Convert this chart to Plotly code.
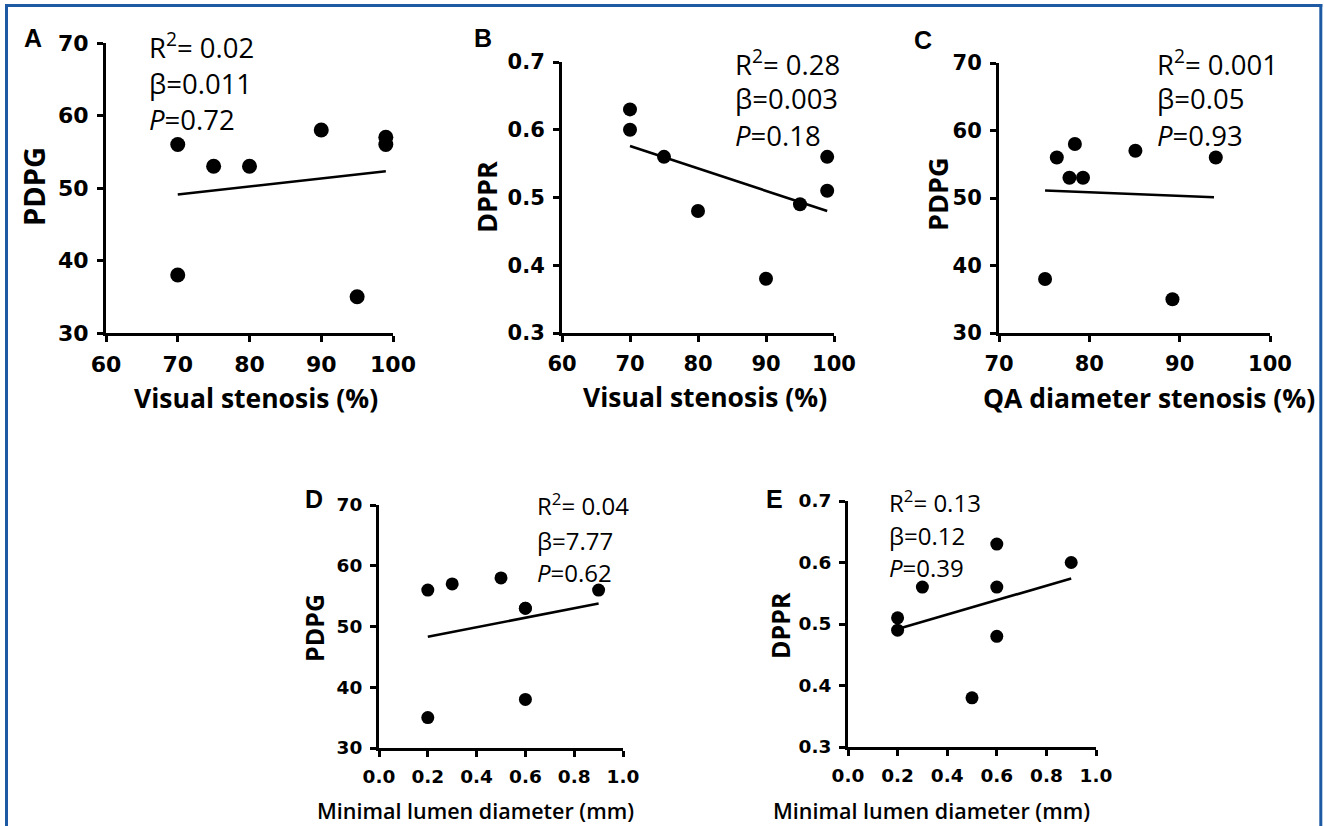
import plotly.graph_objects as go

W, H = 1324, 826

# ---------------- data ----------------
a_x = [70, 70, 75, 80, 90, 95, 99, 99]
a_y = [56, 38, 53, 53, 58, 35, 57, 56]
a_fit_x = [70, 99]
a_fit_y = [49.1, 52.3]

b_x = [70, 70, 75, 80, 90, 95, 99, 99]
b_y = [0.63, 0.60, 0.56, 0.48, 0.38, 0.49, 0.56, 0.51]
b_fit_x = [70, 99]
b_fit_y = [0.576, 0.480]

c_x = [75.1, 76.4, 77.8, 78.4, 79.3, 85.1, 89.2, 94.0]
c_y = [38, 56, 53, 58, 53, 57, 35, 56]
c_fit_x = [75.1, 93.8]
c_fit_y = [51.1, 50.1]

d_x = [0.2, 0.2, 0.3, 0.5, 0.6, 0.6, 0.6, 0.9]
d_y = [56, 35, 57, 58, 53, 53, 38, 56]
d_fit_x = [0.2, 0.9]
d_fit_y = [48.3, 53.8]

e_x = [0.2, 0.2, 0.3, 0.6, 0.6, 0.6, 0.5, 0.9]
e_y = [0.51, 0.49, 0.56, 0.63, 0.56, 0.48, 0.38, 0.60]
e_fit_x = [0.2, 0.9]
e_fit_y = [0.492, 0.574]

panel_letters = ["A", "B", "C", "D", "E"]
x_titles = ["Visual stenosis (%)", "Visual stenosis (%)", "QA diameter stenosis (%)",
            "Minimal lumen diameter (mm)", "Minimal lumen diameter (mm)"]
y_titles = ["PDPG", "DPPR", "PDPG", "PDPG", "DPPR"]
stats = [
    ["R<sup>2</sup>= 0.02", "β=0.011", "<i>P</i>=0.72"],
    ["R<sup>2</sup>= 0.28", "β=0.003", "<i>P</i>=0.18"],
    ["R<sup>2</sup>= 0.001", "β=0.05", "<i>P</i>=0.93"],
    ["R<sup>2</sup>= 0.04", "β=7.77", "<i>P</i>=0.62"],
    ["R<sup>2</sup>= 0.13", "β=0.12", "<i>P</i>=0.39"],
]
x_ranges = [[60, 100], [60, 100], [70, 100], [0, 1.0], [0, 1.0]]
y_ranges = [[30, 70], [0.3, 0.7], [30, 70], [30, 70], [0.3, 0.7]]
x_dticks = [10, 10, 10, 0.2, 0.2]
y_dticks = [10, 0.1, 10, 10, 0.1]
x_fmt = ["d", "d", "d", ".1f", ".1f"]
y_fmt = ["d", ".1f", "d", "d", ".1f"]

# ---------------- layout geometry (pixels) ----------------
# plot boxes: left, right, top, bottom
boxes = [(106, 393, 43, 333), (562, 834, 62, 333), (999, 1270, 63, 333),
         (379, 623, 505, 748), (848, 1096, 501, 747)]
letter_pos = [(33, 38), (483, 38), (923, 40), (314, 499), (774, 499)]
ytitle_pos = [(33, 187), (487, 197), (937, 195), (314, 628), (780, 626)]
ytitle_size = [29, 27, 27, 25, 25]
xtitle_pos = [(256, 398), (705, 397), (1149, 398), (475, 810), (931, 810)]
xtitle_size = [26.5, 26.5, 26.5, 21.5, 21.5]
xtitle_weight = [700, 700, 700, 600, 600]
stat_pos = [(147, [45, 83, 120]), (733, [62, 98, 135]), (1155, [62, 98, 135]),
            (535, [504, 540, 572]), (887, [501, 535, 567])]
stat_size = [27.5, 27.5, 27.5, 24, 24]
tick_size = [22, 21, 21, 18.5, 18.5]
marker_size = [15, 14, 14, 13, 13]


def px(x):
    return x / W


def py(y):
    return 1 - y / H


fig = go.Figure()

series = [(a_x, a_y, a_fit_x, a_fit_y), (b_x, b_y, b_fit_x, b_fit_y),
          (c_x, c_y, c_fit_x, c_fit_y), (d_x, d_y, d_fit_x, d_fit_y),
          (e_x, e_y, e_fit_x, e_fit_y)]

layout_axes = {}
annotations = []
for i, (sx, sy, fx, fy) in enumerate(series):
    n = "" if i == 0 else str(i + 1)
    xa, ya = "x" + n, "y" + n
    fig.add_trace(go.Scatter(x=fx, y=fy, xaxis=xa, yaxis=ya, mode="lines",
                             line=dict(color="black", width=2.6),
                             showlegend=False, cliponaxis=False))
    fig.add_trace(go.Scatter(x=sx, y=sy, xaxis=xa, yaxis=ya, mode="markers",
                             marker=dict(color="black", size=marker_size[i]),
                             showlegend=False, cliponaxis=False))
    l, r, t, b = boxes[i]
    common = dict(showgrid=False, zeroline=False, showline=True, linecolor="black",
                  linewidth=3, ticks="outside", ticklen=6, tickwidth=3,
                  tickcolor="black", automargin=False,
                  tickfont=dict(family="DejaVu Sans", size=tick_size[i],
                                color="black", weight="bold"))
    layout_axes["xaxis" + n] = dict(common, domain=[px(l), px(r)], range=x_ranges[i],
                                    dtick=x_dticks[i], tick0=0, tickformat=x_fmt[i],
                                    anchor=ya, ticklabelstandoff=4)
    layout_axes["yaxis" + n] = dict(common, domain=[py(b), py(t)], range=y_ranges[i],
                                    dtick=y_dticks[i], tick0=0, tickformat=y_fmt[i],
                                    anchor=xa, ticklabelstandoff=4)
    # panel letter
    lx, ly = letter_pos[i]
    annotations.append(dict(text=panel_letters[i], x=px(lx), y=py(ly), xref="paper",
                            yref="paper", showarrow=False, xanchor="center",
                            yanchor="middle",
                            font=dict(family="Liberation Sans", size=25,
                                      color="black", weight="bold")))
    # y title
    tx, ty = ytitle_pos[i]
    annotations.append(dict(text=y_titles[i], x=px(tx), y=py(ty), xref="paper",
                            yref="paper", showarrow=False, textangle=-90,
                            xanchor="center", yanchor="middle",
                            font=dict(family="Open Sans", size=ytitle_size[i],
                                      color="black", weight="bold")))
    # x title
    tx, ty = xtitle_pos[i]
    annotations.append(dict(text=x_titles[i], x=px(tx), y=py(ty), xref="paper",
                            yref="paper", showarrow=False, xanchor="center",
                            yanchor="middle",
                            font=dict(family="Open Sans", size=xtitle_size[i],
                                      color="black", weight=xtitle_weight[i])))
    # stats
    sxp, sys_ = stat_pos[i]
    for txt, yy in zip(stats[i], sys_):
        annotations.append(dict(text=txt, x=px(sxp), y=py(yy), xref="paper",
                                yref="paper", showarrow=False, xanchor="left",
                                yanchor="middle",
                                font=dict(family="Open Sans", size=stat_size[i],
                                          color="black")))

frame_color = "#1d5aa3"
shapes = [
    dict(type="line", xref="paper", yref="paper", x0=px(6.5), x1=px(6.5),
         y0=py(4), y1=py(830), line=dict(color=frame_color, width=3)),
    dict(type="line", xref="paper", yref="paper", x0=px(5), x1=px(1322.3),
         y0=py(5.5), y1=py(5.5), line=dict(color=frame_color, width=3)),
    dict(type="line", xref="paper", yref="paper", x0=px(1320.8), x1=px(1320.8),
         y0=py(4), y1=py(830), line=dict(color=frame_color, width=3)),
]

fig.update_layout(width=W, height=H, margin=dict(l=0, r=0, t=0, b=0, autoexpand=False),
                  paper_bgcolor="white", plot_bgcolor="white",
                  annotations=annotations, shapes=shapes, **layout_axes)

fig.write_html("out.html", config={"displayModeBar": False},
               post_script="document.body.style.margin='0';"
                           "document.body.style.overflow='hidden';")
